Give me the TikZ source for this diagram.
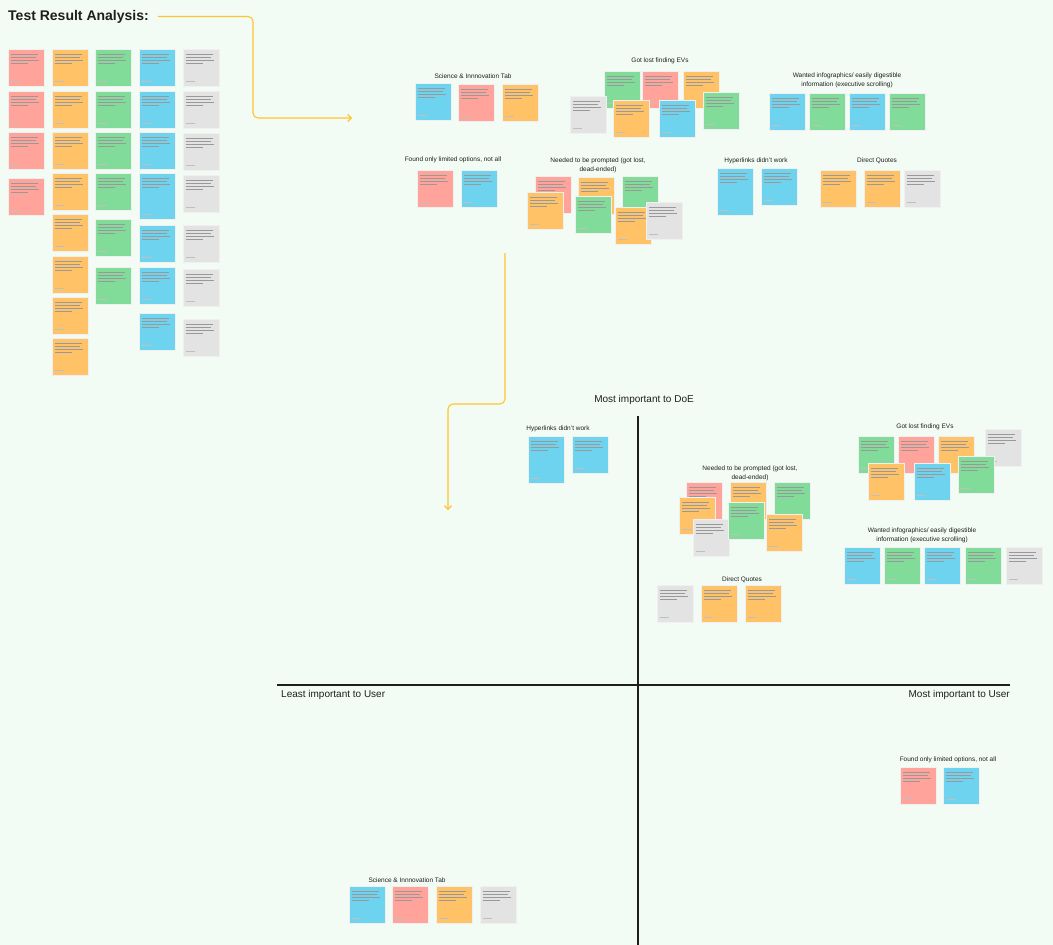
\documentclass[tikz,border=0pt]{standalone}
\usepackage{fontspec}
\setmainfont{Liberation Sans}
\usetikzlibrary{arrows.meta,shadows}
\definecolor{bg}{HTML}{F3FCF4}
\definecolor{cred}{HTML}{FFA39B}
\definecolor{corange}{HTML}{FFC266}
\definecolor{cgreen}{HTML}{80DC98}
\definecolor{cblue}{HTML}{6DD3EE}
\definecolor{cgray}{HTML}{E3E3E3}
\definecolor{cyel}{HTML}{FFC42E}
\definecolor{ink}{HTML}{1E1E1E}
\tikzset{
  note/.style={anchor=north west, minimum width=36pt, minimum height=37pt,
    inner sep=0pt, outer sep=0pt, draw=black!6, line width=0.3pt,
    drop shadow={shadow xshift=0.3pt, shadow yshift=-0.8pt, opacity=0.12},
    path picture={
      \foreach \dy/\len in {5/27,8/25,11/28,14/17}{
        \draw[black!40,line width=0.35pt]
          ([xshift=3pt,yshift=-\dy pt]path picture bounding box.north west) -- ++(\len pt,0pt);}
      \draw[black!25,line width=0.3pt]
          ([xshift=3pt,yshift=5pt]path picture bounding box.south west) -- ++(9pt,0pt);
    }},
  lab/.style={font=\fontsize{6.5}{9}\selectfont, text=ink, align=center, inner sep=0pt},
  biglab/.style={font=\fontsize{10}{12}\selectfont, text=ink, inner sep=0pt},
  yarrow/.style={draw=cyel, line width=1.1pt, rounded corners=5pt,
    -{Straight Barb[length=3.5pt,width=7pt]}},
  axis/.style={draw=ink, line width=1.1pt}
}
\newcommand\nt[5][37]{\node[note,fill=#5,minimum height=#1pt] (#2) at (#3,#4) {};}
\begin{document}
\begin{tikzpicture}[x=1pt,y=-1pt]
\useasboundingbox (0,0) rectangle (1053,945);
\fill[bg] (0,0) rectangle (1053,945);

% title and arrow
\node[anchor=west, font=\bfseries\fontsize{14}{16}\selectfont, text=ink, inner sep=0pt] (title) at (8,16.5) {Test Result Analysis:};
\coordinate (a1end) at (352,118);
\draw[yarrow] ([xshift=9pt]title.east) -| (253,118) -- (a1end);

% left grid
\nt{r1}{8}{49}{cred}\nt{r2}{8}{91}{cred}\nt{r3}{8}{132}{cred}\nt{r4}{8}{178}{cred}
\nt{o1}{52}{49}{corange}\nt{o2}{52}{91}{corange}\nt{o3}{52}{132}{corange}\nt{o4}{52}{173}{corange}
\nt{o5}{52}{214}{corange}\nt{o6}{52}{256}{corange}\nt{o7}{52}{297}{corange}\nt{o8}{52}{338}{corange}
\nt{g1}{95}{49}{cgreen}\nt{g2}{95}{91}{cgreen}\nt{g3}{95}{132}{cgreen}\nt{g4}{95}{173}{cgreen}
\nt{g5}{95}{219}{cgreen}\nt{g6}{95}{267}{cgreen}
\nt{b1}{139}{49}{cblue}\nt{b2}{139}{91}{cblue}\nt{b3}{139}{132}{cblue}\nt[46]{b4}{139}{173}{cblue}
\nt{b5}{139}{225}{cblue}\nt{b6}{139}{267}{cblue}\nt{b7}{139}{313}{cblue}
\nt{y1}{183}{49}{cgray}\nt{y2}{183}{91}{cgray}\nt{y3}{183}{133}{cgray}\nt{y4}{183}{175}{cgray}
\nt{y5}{183}{225}{cgray}\nt{y6}{183}{269}{cgray}\nt{y7}{183}{319}{cgray}

% top clusters
\node[lab] (lsci) at (473,76) {Science \& Innnovation Tab};
\nt{s1}{415}{83}{cblue}\nt{s2}{458}{84}{cred}\nt{s3}{502}{84}{corange}

\node[lab] (lfound) at (453,160) {Found only limited options, not all};
\nt{f1}{417}{170}{cred}\nt{f2}{461}{170}{cblue}

\node[lab] (lprompt) at (598,165.5) {Needed to be prompted (got lost,\\dead-ended)};
\nt{p1}{535}{176}{cred}\nt{p2}{578}{177}{corange}\nt{p3}{622}{176}{cgreen}
\nt{p4}{527}{192}{corange}\nt{p5}{575}{196}{cgreen}\nt{p6}{615}{207}{corange}\nt{p7}{646}{202}{cgray}

\node[lab] (lev) at (660,61) {Got lost finding EVs};
\nt{e1}{604}{71}{cgreen}\nt{e2}{642}{71}{cred}\nt{e3}{683}{71}{corange}
\nt{e4}{570}{96}{cgray}\nt{e5}{613}{100}{corange}\nt{e6}{659}{100}{cblue}\nt{e7}{703}{92}{cgreen}

\node[lab] (linfo) at (847,80.5) {Wanted infographics/ easily digestible\\information (executive scrolling)};
\nt{i1}{769}{93}{cblue}\nt{i2}{809}{93}{cgreen}\nt{i3}{849}{93}{cblue}\nt{i4}{889}{93}{cgreen}

\node[lab] (lhyp) at (756,161) {Hyperlinks didn't work};
\nt[47]{h1}{717}{168}{cblue}\nt{h2}{761}{168}{cblue}

\node[lab] (lquote) at (877,161) {Direct Quotes};
\nt{q1}{820}{170}{corange}\nt{q2}{864}{170}{corange}\nt{q3}{904}{170}{cgray}

% second arrow
\coordinate (a2start) at (505,253);
\coordinate (a2end) at (448,510);
\draw[yarrow] (a2start) -- (505,404) -- (448,404) -- (a2end);

% axes
\coordinate (vtop) at (638,416);
\coordinate (vbot) at (638,945);
\coordinate (hl) at (277,685);
\coordinate (hr) at (1010,685);
\draw[axis] (vtop) -- (vbot);
\draw[axis] (hl) -- (hr);
\node[biglab] (ldoe) at (644,400) {Most important to DoE};
\node[biglab, anchor=west] (lleast) at (281,695) {Least important to User};
\node[biglab, anchor=east] (lmost) at (1010,695) {Most important to User};

% lower clusters
\node[lab] (Lhyp) at (558,429) {Hyperlinks didn't work};
\nt[47]{H1}{528}{436}{cblue}\nt{H2}{572}{436}{cblue}

\node[lab] (Lprompt) at (750,473) {Needed to be prompted (got lost,\\dead-ended)};
\nt{P1}{686}{482}{cred}\nt{P2}{730}{482}{corange}\nt{P3}{774}{482}{cgreen}
\nt{P4}{679}{497}{corange}\nt{P7}{693}{519}{cgray}\nt{P5}{728}{502}{cgreen}\nt{P6}{766}{514}{corange}

\node[lab] (Lev) at (925,427) {Got lost finding EVs};
\nt{E1}{858}{436}{cgreen}\nt{E2}{898}{436}{cred}\nt{E3}{938}{436}{corange}\nt{E4}{985}{429}{cgray}
\nt{E5}{868}{463}{corange}\nt{E6}{914}{463}{cblue}\nt{E7}{958}{456}{cgreen}

\node[lab] (Linfo) at (922,535.5) {Wanted infographics/ easily digestible\\information (executive scrolling)};
\nt{I1}{844}{547}{cblue}\nt{I2}{884}{547}{cgreen}\nt{I3}{924}{547}{cblue}\nt{I4}{965}{547}{cgreen}\nt{I5}{1006}{547}{cgray}

\node[lab] (Lquote) at (742,580) {Direct Quotes};
\nt{Q1}{657}{585}{cgray}\nt{Q2}{701}{585}{corange}\nt{Q3}{745}{585}{corange}

\node[lab] (Lfound) at (948,760) {Found only limited options, not all};
\nt{F1}{900}{767}{cred}\nt{F2}{943}{767}{cblue}

\node[lab] (Lsci) at (407,880) {Science \& Innnovation Tab};
\nt{S1}{349}{886}{cblue}\nt{S2}{392}{886}{cred}\nt{S3}{436}{886}{corange}\nt{S4}{480}{886}{cgray}
\end{tikzpicture}
\end{document}
